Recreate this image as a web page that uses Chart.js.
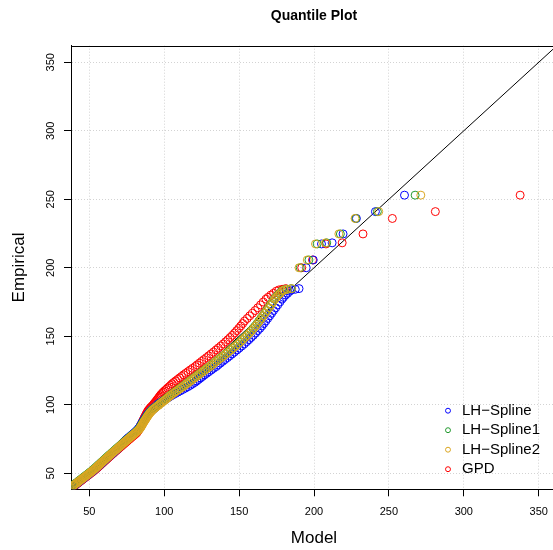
<!DOCTYPE html>
<html>
<head>
<meta charset="utf-8">
<script src="https://cdn.jsdelivr.net/npm/chart.js@4.4.1/dist/chart.umd.min.js"></script>
<style>
  html, body { margin: 0; padding: 0; background: #ffffff; overflow: hidden; }
  #wrap { width: 562px; height: 550px; }
</style>
</head>
<body>
<div id="wrap"><canvas id="qq" width="562" height="550"></canvas></div>
<script>
// Empirical quantiles (sorted sample), shared by every fitted model
const empirical = [
  41.0, 41.5, 42.1, 42.6, 43.0, 43.6, 44.2, 44.7, 45.1, 45.8,
  46.3, 46.9, 47.4, 47.9, 48.5, 49.0, 49.6, 50.1, 50.7, 51.2,
  51.8, 52.3, 52.9, 53.4, 54.0, 54.6, 55.1, 55.7, 56.2, 56.8,
  57.3, 57.9, 58.4, 59.0, 59.6, 60.1, 60.7, 61.2, 61.8, 62.3,
  62.9, 63.5, 64.0, 64.6, 65.1, 65.7, 66.3, 66.8, 67.4, 67.9,
  68.5, 69.1, 69.6, 70.2, 70.8, 71.3, 71.9, 72.5, 73.0, 73.6,
  74.2, 74.8, 75.3, 75.9, 76.5, 77.1, 77.6, 78.2, 78.8, 79.4,
  80.0, 80.6, 81.2, 81.8, 82.4, 83.0, 83.6, 84.2, 84.9, 85.5,
  86.1, 86.8, 87.4, 88.1, 88.7, 89.4, 90.1, 90.8, 91.5, 92.2,
  92.9, 93.6, 94.3, 95.0, 95.8, 96.5, 97.3, 98.1, 98.9, 99.7,
  100.5, 101.3, 102.1, 103.0, 103.8, 104.7, 105.6, 106.5, 107.4, 108.3,
  109.3, 110.2, 111.2, 112.2, 113.2, 114.2, 115.3, 116.3, 117.4, 118.5,
  119.6, 120.7, 121.9, 123.0, 124.2, 125.4, 126.6, 127.9, 129.1, 130.4,
  131.7, 133.0, 134.4, 135.7, 137.1, 138.5, 140.0, 141.4, 142.9, 144.4,
  146.0, 147.5, 149.1, 150.7,
  152.4, 154.1, 155.8, 157.5, 159.3, 161.1, 163.0, 164.9, 166.8, 168.8,
  170.8, 172.9, 175.0, 177.1, 178.4, 180.1, 181.4, 182.9, 183.8, 184.3,
  184.8,
  200.0, 205.7, 217.4, 218.2, 224.7, 236.0, 241.0, 253.0
];

// Model quantiles for each fit, in the same order as the empirical values
const lhSpline = [
  39.8, 40.3, 41.0, 41.6, 42.1, 42.8, 43.5, 44.1, 44.6, 45.4,
  46.0, 46.7, 47.3, 47.9, 48.6, 49.2, 49.9, 50.5, 51.2, 51.8,
  52.5, 53.0, 53.7, 54.2, 54.8, 55.4, 55.9, 56.5, 57.0, 57.6,
  58.1, 58.7, 59.2, 59.8, 60.4, 60.9, 61.5, 62.0, 62.6, 63.1,
  63.7, 64.3, 64.9, 65.5, 66.0, 66.6, 67.2, 67.8, 68.4, 68.9,
  69.4, 69.9, 70.4, 70.9, 71.4, 71.8, 72.4, 72.9, 73.3, 73.9,
  74.4, 75.0, 75.6, 76.2, 76.8, 77.5, 78.0, 78.7, 79.3, 80.0,
  80.6, 81.2, 81.8, 82.3, 82.8, 83.2, 83.6, 83.9, 84.3, 84.6,
  84.9, 85.3, 85.6, 86.0, 86.4, 86.8, 87.2, 87.6, 88.0, 88.5,
  88.9, 89.4, 89.9, 90.5, 91.1, 91.8, 92.6, 93.5, 94.5, 95.6,
  95.8, 97.0, 98.2, 99.4, 100.7, 102.0, 103.3, 104.6, 106.0, 107.6,
  109.2, 110.8, 112.5, 114.2, 115.8, 117.4, 118.9, 120.4, 121.7, 123.0,
  124.3, 125.6, 127.0, 128.4, 129.9, 131.4, 132.9, 134.7, 136.0, 137.5,
  139.0, 140.5, 142.2, 143.7, 145.3, 146.9, 148.6, 150.1, 151.8, 153.4,
  155.0, 156.5, 158.0, 159.5,
  161.0, 162.4, 163.9, 165.2, 166.5, 167.8, 169.1, 170.4, 171.7, 173.0,
  174.4, 175.8, 177.2, 178.6, 179.6, 181.0, 182.4, 183.8, 185.0, 187.5,
  190.0,
  194.8, 199.5, 205.0, 212.1, 219.4, 228.3, 241.0, 260.4
];

const lhSpline1 = [
  39.1, 39.6, 40.3, 40.9, 41.4, 42.1, 42.8, 43.4, 43.9, 44.7,
  45.3, 46.0, 46.6, 47.2, 47.9, 48.5, 49.2, 49.8, 50.5, 51.1,
  51.8, 52.3, 53.0, 53.5, 54.1, 54.7, 55.2, 55.8, 56.3, 56.9,
  57.4, 58.0, 58.5, 59.1, 59.7, 60.2, 60.8, 61.3, 61.9, 62.4,
  63.0, 63.6, 64.2, 64.8, 65.3, 65.9, 66.5, 67.1, 67.7, 68.2,
  68.8, 69.4, 70.0, 70.6, 71.2, 71.7, 72.4, 73.0, 73.5, 74.2,
  74.8, 75.4, 76.0, 76.6, 77.2, 77.9, 78.4, 79.1, 79.7, 80.4,
  81.0, 81.6, 82.2, 82.7, 83.2, 83.6, 84.0, 84.3, 84.7, 85.0,
  85.3, 85.7, 86.0, 86.4, 86.8, 87.2, 87.6, 88.0, 88.4, 88.9,
  89.3, 89.8, 90.3, 90.9, 91.5, 92.2, 93.0, 93.9, 94.9, 96.0,
  96.6, 97.6, 98.6, 99.6, 100.6, 101.6, 102.6, 103.6, 104.6, 105.8,
  107.0, 108.2, 109.5, 110.8, 112.1, 113.4, 114.7, 116.0, 117.3, 118.6,
  119.9, 121.2, 122.6, 124.0, 125.5, 127.0, 128.5, 130.3, 131.6, 133.1,
  134.6, 136.1, 137.8, 139.3, 140.9, 142.5, 144.2, 145.7, 147.4, 149.0,
  150.6, 152.1, 153.6, 155.1,
  156.6, 158.0, 159.4, 160.7, 162.0, 163.2, 164.5, 165.7, 167.0, 168.3,
  169.6, 170.9, 172.2, 173.5, 174.4, 175.8, 177.1, 178.4, 179.6, 181.8,
  184.7,
  190.8, 196.6, 202.1, 208.5, 217.6, 227.9, 242.3, 267.5
];

const lhSpline2 = [
  39.5, 40.0, 40.7, 41.3, 41.8, 42.5, 43.2, 43.8, 44.3, 45.1,
  45.7, 46.4, 47.0, 47.6, 48.3, 48.9, 49.6, 50.2, 50.9, 51.5,
  52.2, 52.7, 53.4, 53.9, 54.5, 55.1, 55.6, 56.2, 56.7, 57.3,
  57.8, 58.4, 58.9, 59.5, 60.1, 60.6, 61.2, 61.7, 62.3, 62.8,
  63.4, 64.0, 64.6, 65.2, 65.7, 66.3, 66.9, 67.5, 68.1, 68.6,
  69.2, 69.8, 70.4, 71.0, 71.6, 72.1, 72.8, 73.4, 73.9, 74.6,
  75.2, 75.8, 76.4, 77.0, 77.6, 78.3, 78.8, 79.5, 80.1, 80.8,
  81.4, 82.0, 82.6, 83.1, 83.6, 84.0, 84.4, 84.7, 85.1, 85.4,
  85.7, 86.1, 86.4, 86.8, 87.2, 87.6, 88.0, 88.4, 88.8, 89.3,
  89.7, 90.2, 90.7, 91.3, 91.9, 92.6, 93.4, 94.3, 95.3, 96.4,
  97.0, 98.0, 99.0, 100.0, 101.0, 102.0, 103.0, 104.0, 105.0, 106.2,
  107.4, 108.6, 109.9, 111.2, 112.5, 113.8, 115.1, 116.4, 117.7, 119.0,
  120.3, 121.6, 123.0, 124.4, 125.9, 127.4, 128.9, 130.7, 132.0, 133.5,
  135.0, 136.5, 138.2, 139.7, 141.3, 142.9, 144.6, 146.1, 147.8, 149.4,
  151.0, 152.5, 154.0, 155.5,
  157.0, 158.4, 159.8, 161.1, 162.4, 163.6, 164.9, 166.1, 167.4, 168.7,
  170.0, 171.3, 172.6, 173.9, 174.8, 176.2, 177.5, 178.8, 180.0, 182.2,
  185.1,
  190.0, 195.5, 201.0, 207.7, 216.6, 227.4, 243.2, 271.3
];

const gpd = [
  40.3, 40.8, 41.5, 42.1, 42.6, 43.3, 44.0, 44.6, 45.1, 45.9,
  46.5, 47.2, 47.8, 48.4, 49.1, 49.7, 50.4, 51.0, 51.7, 52.3,
  53.0, 53.5, 54.2, 54.7, 55.3, 55.9, 56.4, 57.0, 57.5, 58.1,
  58.6, 59.2, 59.7, 60.3, 60.9, 61.4, 62.0, 62.5, 63.1, 63.6,
  64.2, 64.8, 65.4, 66.0, 66.5, 67.1, 67.7, 68.3, 68.9, 69.4,
  70.0, 70.6, 71.2, 71.8, 72.4, 72.9, 73.6, 74.2, 74.7, 75.4,
  76.0, 76.6, 77.2, 77.8, 78.4, 79.1, 79.6, 80.3, 80.9, 81.6,
  81.9, 82.3, 82.7, 83.0, 83.3, 83.5, 83.7, 83.9, 84.3, 84.6,
  84.9, 85.2, 85.4, 85.7, 86.0, 86.3, 86.6, 86.9, 87.2, 87.6,
  87.9, 88.2, 88.5, 88.9, 89.3, 89.8, 90.4, 91.0, 91.7, 92.5,
  93.0, 93.6, 94.2, 94.8, 95.4, 96.0, 96.6, 97.2, 97.8, 98.6,
  99.4, 100.3, 101.3, 102.3, 103.3, 104.3, 105.3, 106.4, 107.7, 109.0,
  110.3, 111.6, 113.0, 114.4, 115.9, 117.4, 118.9, 120.7, 122.0, 123.5,
  125.0, 126.5, 128.2, 129.7, 131.3, 132.9, 134.6, 136.1, 137.8, 139.4,
  141.0, 142.5, 144.0, 145.5,
  147.0, 148.4, 149.8, 151.1, 152.4, 153.6, 155.4, 157.1, 158.9, 160.7,
  162.5, 164.3, 166.1, 167.9, 169.3, 171.2, 173.0, 174.8, 176.5, 178.7,
  181.1,
  191.8, 199.0, 208.0, 218.8, 232.7, 252.3, 281.0, 337.6
];

const seriesNames = ['LH\u2212Spline', 'LH\u2212Spline1', 'LH\u2212Spline2', 'GPD'];
const seriesColors = ['#0000ff', '#22992e', '#daa520', '#ff0000'];
const seriesModels = [lhSpline, lhSpline1, lhSpline2, gpd];
// stacking: spline2 on top, then spline1, spline, GPD underneath
const seriesOrder = [2, 1, 0, 3];

// 45-degree reference line end points (model = empirical)
const refLine = [30, 370];

// Axis ranges and tick spacing
const xLimits = [37.8, 362.2];
const yLimits = [38.3, 362.1];
const tickStep = 50;

const FONT = "'Liberation Sans', Arial, Helvetica, sans-serif";
Chart.defaults.font.family = FONT;
Chart.defaults.color = '#000000';

const datasets = seriesModels.map((model, s) => ({
  label: seriesNames[s],
  data: model.map((m, i) => ({ x: m, y: empirical[i] })),
  borderColor: seriesColors[s],
  backgroundColor: 'rgba(0,0,0,0)',
  pointBorderColor: seriesColors[s],
  pointBackgroundColor: 'rgba(0,0,0,0)',
  pointRadius: 4,
  pointHoverRadius: 4,
  pointBorderWidth: 1,
  pointStyle: 'circle',
  showLine: false,
  order: seriesOrder[s]
}));

datasets.push({
  type: 'line',
  label: 'reference',
  data: refLine.map(v => ({ x: v, y: v })),
  borderColor: '#000000',
  borderWidth: 1,
  pointRadius: 0,
  fill: false,
  order: 10
});

// frame around the plotting region (top edge; left/bottom come from the axes)
const frame = {
  id: 'frame',
  afterDraw(chart) {
    const { ctx, chartArea: a } = chart;
    ctx.save();
    ctx.strokeStyle = '#000000';
    ctx.lineWidth = 1;
    ctx.beginPath();
    ctx.moveTo(a.left, Math.round(a.top) + 0.5);
    ctx.lineTo(a.right, Math.round(a.top) + 0.5);
    ctx.lineTo(a.right, a.bottom);
    ctx.stroke();
    ctx.restore();
  }
};

// keep the legend inside the plotting region, lower right
const legendPlacement = {
  id: 'legendPlacement',
  afterLayout(chart) {
    const lg = chart.legend;
    if (!lg) return;
    const a = chart.chartArea;
    const w = lg.width;
    lg.left = 437;
    lg.right = lg.left + w;
    lg.top = 398.7;
    lg.bottom = a.bottom;
    lg.height = lg.bottom - lg.top;
  }
};

const axisCommon = {
  type: 'linear',
  grid: {
    color: '#d3d3d3',
    lineWidth: 1,
    drawTicks: true,
    tickLength: 7,
    tickColor: '#000000',
    tickWidth: 1,
    tickBorderDash: []
  },
  border: { display: true, color: '#000000', width: 1, dash: [1, 2] }
};

new Chart(document.getElementById('qq'), {
  type: 'scatter',
  data: { datasets },
  options: {
    responsive: false,
    animation: false,
    devicePixelRatio: 1,
    layout: { padding: { left: 0, top: 0, right: 3, bottom: 0 } },
    plugins: {
      title: {
        display: true,
        text: 'Quantile Plot',
        fullSize: false,
        color: '#000000',
        font: { family: FONT, size: 14, weight: 'bold' },
        padding: { top: 7.6, bottom: 21.3 }
      },
      legend: {
        position: 'chartArea',
        align: 'start',
        labels: {
          usePointStyle: true,
          boxWidth: 13,
          boxHeight: 3.5,
          padding: 4.5,
          color: '#000000',
          font: { family: FONT, size: 15 },
          filter: item => item.datasetIndex < seriesNames.length,
          sort: (a, b) => a.datasetIndex - b.datasetIndex
        }
      },
      tooltip: { enabled: false }
    },
    scales: {
      x: Object.assign({}, axisCommon, {
        position: 'bottom',
        min: xLimits[0],
        max: xLimits[1],
        ticks: {
          stepSize: tickStep,
          includeBounds: false,
          autoSkip: false,
          maxRotation: 0,
          font: { family: FONT, size: 11 },
          color: '#000000',
          padding: 8.8
        },
        title: {
          display: true,
          text: 'Model',
          color: '#000000',
          font: { family: FONT, size: 17 },
          padding: { top: 0.7, bottom: 1.8 }
        }
      }),
      y: Object.assign({}, axisCommon, {
        position: 'left',
        min: yLimits[0],
        max: yLimits[1],
        ticks: {
          stepSize: tickStep,
          includeBounds: false,
          autoSkip: false,
          minRotation: 90,
          maxRotation: 90,
          crossAlign: 'center',
          font: { family: FONT, size: 11 },
          color: '#000000',
          padding: 3.8
        },
        title: {
          display: true,
          text: 'Empirical',
          color: '#000000',
          font: { family: FONT, size: 17 },
          padding: { top: 8.8, bottom: 14 }
        }
      })
    }
  },
  plugins: [frame, legendPlacement]
});
</script>
</body>
</html>
